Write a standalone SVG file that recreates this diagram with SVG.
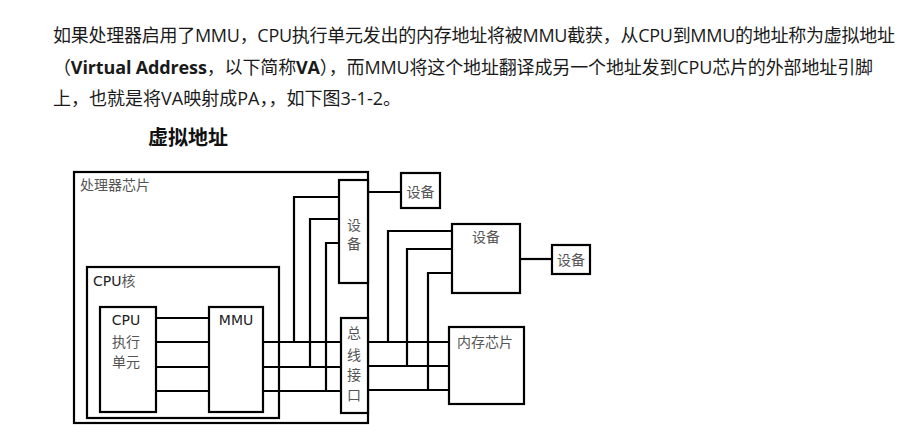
<svg xmlns="http://www.w3.org/2000/svg" width="901" height="437" viewBox="0 0 901 437">
<style>
.para{font-family:"Open Sans","Noto Sans CJK SC",sans-serif;font-size:18px;fill:#1a1a1a}
.b{font-weight:bold}
.title{font-family:"Noto Sans CJK SC",sans-serif;font-size:20px;font-weight:bold;fill:#111}
.box{fill:#fff;stroke:#000;stroke-width:2.2}
.lbl{font-family:"DejaVu Sans","Noto Sans CJK SC",sans-serif;font-size:14px;fill:#555}
.lbd{font-family:"DejaVu Sans","Noto Sans CJK SC",sans-serif;font-size:14px;fill:#222}
.w{fill:none;stroke:#000;stroke-width:2.2}
</style>
<rect width="901" height="437" fill="#fff"/>
<g id="paragraph">
<text class="para" x="53" y="42" textLength="842">如果处理器启用了MMU，CPU执行单元发出的内存地址将被MMU截获，从CPU到MMU的地址称为虚拟地址</text>
<text class="para" x="53" y="74" textLength="820">（<tspan class="b">Virtual Address</tspan>，以下简称<tspan class="b">VA</tspan>），而MMU将这个地址翻译成另一个地址发到CPU芯片的外部地址引脚</text>
<text class="para" x="53" y="105" textLength="348">上，也就是将VA映射成PA，，如下图3-1-2。</text>
</g>
<text class="title" x="148" y="145">虚拟地址</text>
<g id="chip">
<rect class="box" x="74" y="172" width="294" height="251"/>
<text class="lbl" x="80" y="190">处理器芯片</text>
</g>
<g id="cpu-core">
<rect class="box" x="87" y="267" width="192" height="151"/>
<text class="lbd" x="93" y="286">CPU<tspan class="lbl">核</tspan></text>
</g>
<g id="cpu-exec">
<rect class="box" x="100" y="307" width="56" height="105"/>
<text class="lbd" x="126" y="325" text-anchor="middle">CPU</text>
<text class="lbl" x="126" y="347" text-anchor="middle">执行</text>
<text class="lbl" x="126" y="367" text-anchor="middle">单元</text>
</g>
<g id="mmu">
<rect class="box" x="209" y="307" width="54" height="105"/>
<text class="lbd" x="236" y="325" text-anchor="middle">MMU</text>
</g>
<g id="dev-v">
<rect class="box" x="339" y="180" width="29" height="103"/>
<text class="lbl" x="354" y="230" text-anchor="middle">设</text>
<text class="lbl" x="354" y="249" text-anchor="middle">备</text>
</g>
<g id="bus">
<rect class="box" x="341" y="318" width="27" height="95"/>
<text class="lbl" x="354" y="338" text-anchor="middle">总</text>
<text class="lbl" x="354" y="360" text-anchor="middle">线</text>
<text class="lbl" x="354" y="380" text-anchor="middle">接</text>
<text class="lbl" x="354" y="400" text-anchor="middle">口</text>
</g>
<g id="dev-small1">
<rect class="box" x="401" y="173" width="39" height="35"/>
<text class="lbl" x="420.5" y="197" text-anchor="middle">设备</text>
</g>
<g id="dev-big">
<rect class="box" x="452" y="224" width="68" height="69"/>
<text class="lbl" x="486" y="242" text-anchor="middle">设备</text>
</g>
<g id="dev-small2">
<rect class="box" x="552" y="245" width="38" height="29"/>
<text class="lbl" x="571" y="265" text-anchor="middle">设备</text>
</g>
<g id="memory">
<rect class="box" x="449" y="327" width="75" height="77"/>
<text class="lbl" x="457" y="347">内存芯片</text>
</g>
<g id="connectors">
<path class="w" d="M156 318H209M156 342H209M156 367H209M156 391H209"/>
<path class="w" d="M263 342H341M263 367H341M263 391H341"/>
<path class="w" d="M294 342V197H339M310 367V219H339M326 391V243H339"/>
<path class="w" d="M368 192H401"/>
<path class="w" d="M368 342H449M368 366H449M368 390H449"/>
<path class="w" d="M388 342V231H452M407 366V249H452M428 390V273H452"/>
<path class="w" d="M520 259H552"/>
</g>
</svg>
